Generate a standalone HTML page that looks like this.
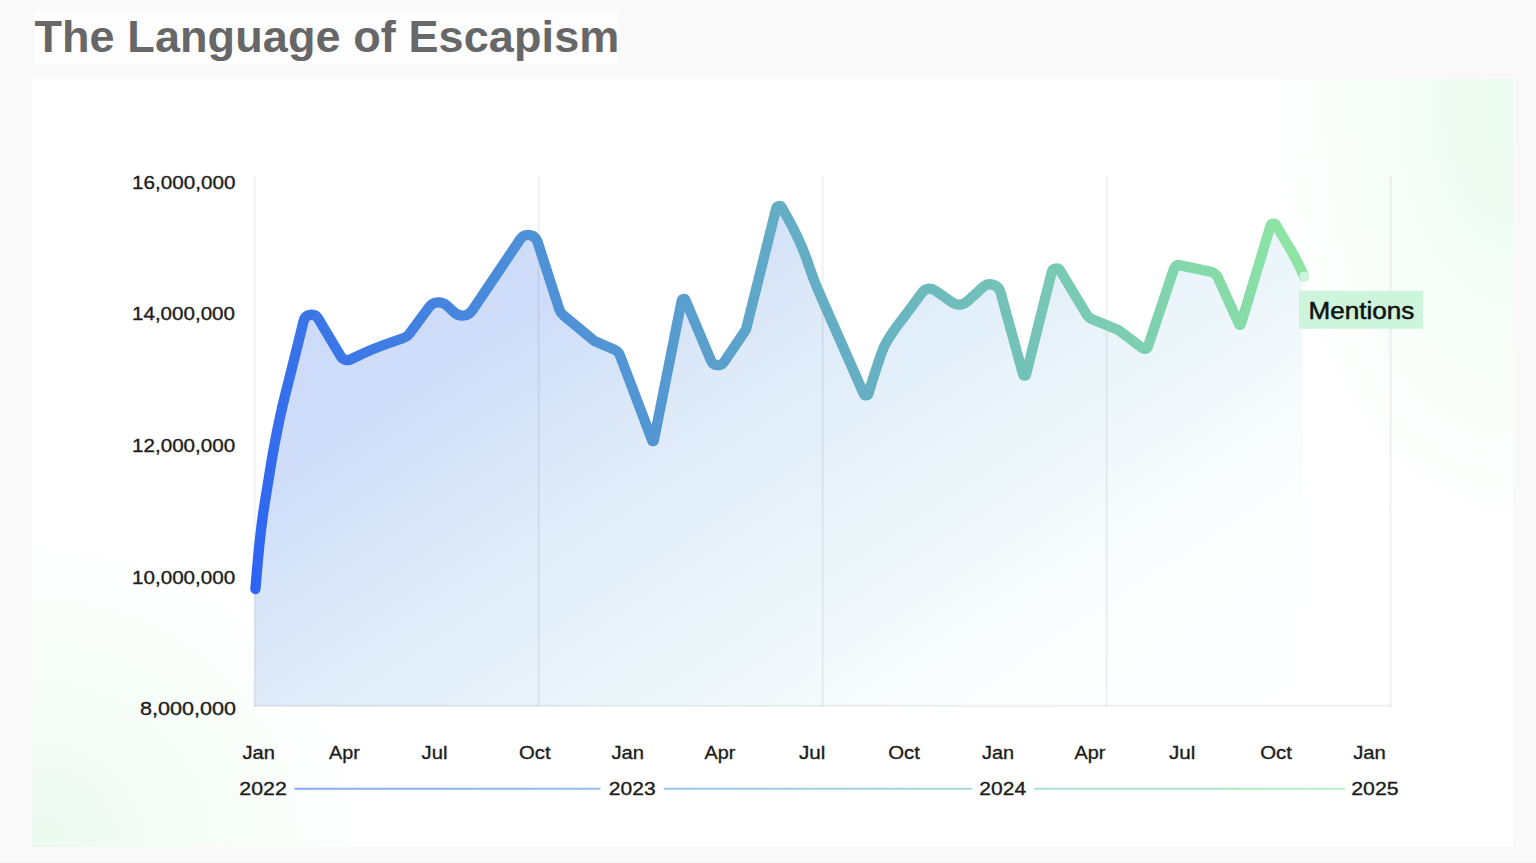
<!DOCTYPE html>
<html lang="en">
<head>
<meta charset="utf-8">
<title>The Language of Escapism</title>
<style>
  html, body { margin:0; padding:0; }
  body { width:1536px; height:863px; overflow:hidden; background:#f9f9f9; position:relative;
         font-family:"Liberation Sans", sans-serif; }
  .title-box { position:absolute; left:34px; top:9.5px; width:585px; height:54px; background:#fdfdfd; }
  .title { position:absolute; left:34.4px; top:10.1px; margin:0; font-size:45px; line-height:54px; font-weight:bold;
           color:#676767; white-space:nowrap; letter-spacing:0.1px; }
  .panel { position:absolute; left:31.6px; top:79.3px; width:1481px; height:767.5px; background:
      radial-gradient(ellipse 310px 540px at 100% 3%, rgba(236,252,240,1) 0%, rgba(238,252,242,0.9) 22%, rgba(244,253,246,0.5) 55%, rgba(251,254,252,0.18) 80%, rgba(255,255,255,0) 100%),
      radial-gradient(ellipse 440px 410px at 0% 100%, rgba(236,250,240,1) 0%, rgba(242,252,245,0.7) 40%, rgba(251,254,252,0.25) 75%, rgba(255,255,255,0) 100%),
      #ffffff; }
  svg { position:absolute; left:0; top:0; }
  svg text { font-family:"Liberation Sans", sans-serif; }
</style>
</head>
<body>
<div class="title-box"></div>
<h1 class="title">The Language of Escapism</h1>
<div class="panel"></div>
<div style="position:absolute;left:0;top:862px;width:1536px;height:1px;background:#f4f4f4"></div>
<svg width="1536" height="863" viewBox="0 0 1536 863">
<defs>
  <linearGradient id="gl" gradientUnits="userSpaceOnUse" x1="254" y1="594" x2="1304" y2="201">
    <stop offset="0" stop-color="#2d64f3"/>
    <stop offset="1" stop-color="#8fe7a1"/>
  </linearGradient>
  <linearGradient id="gy" gradientUnits="userSpaceOnUse" x1="294" y1="0" x2="1345" y2="0">
    <stop offset="0" stop-color="#88a6f6"/>
    <stop offset="0.5" stop-color="#a2cfe2"/>
    <stop offset="1" stop-color="#b6efc4"/>
  </linearGradient>
  <linearGradient id="ga" gradientUnits="userSpaceOnUse" x1="254.5" y1="206" x2="803.7" y2="1035.8">
    <stop offset="0.0" stop-color="#cddbfa"/>
    <stop offset="0.25" stop-color="#cfddf9"/>
    <stop offset="0.3" stop-color="#d4e2f9"/>
    <stop offset="0.4" stop-color="#deeaf8"/>
    <stop offset="0.5" stop-color="#e3eff9"/>
    <stop offset="0.57" stop-color="#e9f3fa"/>
    <stop offset="0.63" stop-color="#ecf6fa"/>
    <stop offset="0.67" stop-color="#f0f8fb"/>
    <stop offset="0.74" stop-color="#f6fbfc"/>
    <stop offset="0.82" stop-color="#fcfefe"/>
    <stop offset="0.89" stop-color="#feffff"/>
    <stop offset="1.0" stop-color="#ffffff"/>
  </linearGradient>
</defs>
<path d="M254.5 706.3L254.5 589L255.40 589.00L256.54 575.51Q257.60 563.00 258.80 550.50L258.80 550.50Q260.00 538.00 261.55 525.54L261.55 525.50Q263.10 513.00 265.14 500.57L265.15 500.50Q267.20 488.00 269.21 475.49L270.48 467.56Q272.50 455.00 274.88 442.50L274.88 442.50Q277.25 430.00 279.91 417.56L279.93 417.50Q282.60 405.00 285.77 392.62L285.80 392.50Q289.00 380.00 292.11 367.48L293.39 362.31Q295.80 352.60 298.19 342.89L303.62 320.90A8.00 8.00 0 0 1 318.25 318.70L340.65 356.15A8.00 8.00 0 0 0 350.96 359.26L361.67 354.16Q372.50 349.00 383.81 344.99L403.50 338.01A13.00 13.00 0 0 0 409.62 333.47L428.98 307.22A12.00 12.00 0 0 1 446.78 305.53L454.22 312.40A12.00 12.00 0 0 0 472.31 310.29L520.24 239.24A9.70 9.70 0 0 1 537.52 241.69L559.28 309.29A13.00 13.00 0 0 0 563.38 315.33L593.47 340.16A13.00 13.00 0 0 0 596.68 342.11L614.44 349.63A10.00 10.00 0 0 1 619.90 355.29L652.29 440.69A0.80 0.80 0 0 0 653.82 440.56L681.74 300.60A2.00 2.00 0 0 1 685.54 300.21L711.06 360.65A7.50 7.50 0 0 0 724.19 361.92L745.58 330.16A5.00 5.00 0 0 0 746.28 328.58L776.24 208.25A3.00 3.00 0 0 1 781.77 207.49L786.32 215.53Q793.10 227.50 798.85 240.00L799.11 240.56Q804.60 252.50 808.67 265.00L809.31 266.95Q812.75 277.50 817.12 287.70L817.12 287.70Q821.50 297.90 825.97 308.06L863.80 393.91A2.50 2.50 0 0 0 868.49 393.61L870.01 388.45Q872.50 380.00 875.30 371.65L875.33 371.58Q878.10 363.30 880.80 355.00L881.01 354.37Q883.50 346.70 887.75 339.85L887.75 339.85Q892.00 333.00 896.79 326.52L896.80 326.50Q901.60 320.00 906.52 313.59L907.35 312.50Q913.10 305.00 918.64 297.34L922.01 292.69A9.50 9.50 0 0 1 935.11 290.45L952.37 302.40A12.00 12.00 0 0 0 967.28 301.40L982.96 287.13A10.70 10.70 0 0 1 1000.48 292.20L1023.14 374.50A1.50 1.50 0 0 0 1026.04 374.47L1051.74 272.10A4.70 4.70 0 0 1 1060.32 270.82L1086.54 314.34A12.00 12.00 0 0 0 1092.25 319.24L1116.50 329.22A14.00 14.00 0 0 1 1119.59 330.98L1142.46 348.20A3.50 3.50 0 0 0 1147.88 346.52L1174.22 268.08A4.50 4.50 0 0 1 1179.42 265.11L1210.81 271.76A10.00 10.00 0 0 1 1217.84 277.42L1239.02 324.16A1.00 1.00 0 0 0 1240.89 324.04L1270.58 225.71A3.00 3.00 0 0 1 1276.04 225.06L1281.42 234.25Q1286.25 242.50 1291.17 250.70L1291.19 250.73Q1296.10 258.90 1300.05 267.57L1304.00 276.25L1302.5 276.25L1302.5 706.3Z" fill="url(#ga)"/>
<line x1="254.7" y1="176.5" x2="254.7" y2="706.8" stroke="#000" stroke-opacity="0.055" stroke-width="2.2"/>
<line x1="538.6" y1="176.5" x2="538.6" y2="706.8" stroke="#000" stroke-opacity="0.055" stroke-width="2.2"/>
<line x1="822.6" y1="176.5" x2="822.6" y2="706.8" stroke="#000" stroke-opacity="0.055" stroke-width="2.2"/>
<line x1="1106.6" y1="176.5" x2="1106.6" y2="706.8" stroke="#000" stroke-opacity="0.055" stroke-width="2.2"/>
<line x1="1390.6" y1="176.5" x2="1390.6" y2="706.8" stroke="#000" stroke-opacity="0.055" stroke-width="2.2"/>
<line x1="253.6" y1="705.8" x2="1391.7" y2="705.8" stroke="#000" stroke-opacity="0.055" stroke-width="2.2"/>
<path d="M255.40 589.00L256.54 575.51Q257.60 563.00 258.80 550.50L258.80 550.50Q260.00 538.00 261.55 525.54L261.55 525.50Q263.10 513.00 265.14 500.57L265.15 500.50Q267.20 488.00 269.21 475.49L270.48 467.56Q272.50 455.00 274.88 442.50L274.88 442.50Q277.25 430.00 279.91 417.56L279.93 417.50Q282.60 405.00 285.77 392.62L285.80 392.50Q289.00 380.00 292.11 367.48L293.39 362.31Q295.80 352.60 298.19 342.89L303.62 320.90A8.00 8.00 0 0 1 318.25 318.70L340.65 356.15A8.00 8.00 0 0 0 350.96 359.26L361.67 354.16Q372.50 349.00 383.81 344.99L403.50 338.01A13.00 13.00 0 0 0 409.62 333.47L428.98 307.22A12.00 12.00 0 0 1 446.78 305.53L454.22 312.40A12.00 12.00 0 0 0 472.31 310.29L520.24 239.24A9.70 9.70 0 0 1 537.52 241.69L559.28 309.29A13.00 13.00 0 0 0 563.38 315.33L593.47 340.16A13.00 13.00 0 0 0 596.68 342.11L614.44 349.63A10.00 10.00 0 0 1 619.90 355.29L652.29 440.69A0.80 0.80 0 0 0 653.82 440.56L681.74 300.60A2.00 2.00 0 0 1 685.54 300.21L711.06 360.65A7.50 7.50 0 0 0 724.19 361.92L745.58 330.16A5.00 5.00 0 0 0 746.28 328.58L776.24 208.25A3.00 3.00 0 0 1 781.77 207.49L786.32 215.53Q793.10 227.50 798.85 240.00L799.11 240.56Q804.60 252.50 808.67 265.00L809.31 266.95Q812.75 277.50 817.12 287.70L817.12 287.70Q821.50 297.90 825.97 308.06L863.80 393.91A2.50 2.50 0 0 0 868.49 393.61L870.01 388.45Q872.50 380.00 875.30 371.65L875.33 371.58Q878.10 363.30 880.80 355.00L881.01 354.37Q883.50 346.70 887.75 339.85L887.75 339.85Q892.00 333.00 896.79 326.52L896.80 326.50Q901.60 320.00 906.52 313.59L907.35 312.50Q913.10 305.00 918.64 297.34L922.01 292.69A9.50 9.50 0 0 1 935.11 290.45L952.37 302.40A12.00 12.00 0 0 0 967.28 301.40L982.96 287.13A10.70 10.70 0 0 1 1000.48 292.20L1023.14 374.50A1.50 1.50 0 0 0 1026.04 374.47L1051.74 272.10A4.70 4.70 0 0 1 1060.32 270.82L1086.54 314.34A12.00 12.00 0 0 0 1092.25 319.24L1116.50 329.22A14.00 14.00 0 0 1 1119.59 330.98L1142.46 348.20A3.50 3.50 0 0 0 1147.88 346.52L1174.22 268.08A4.50 4.50 0 0 1 1179.42 265.11L1210.81 271.76A10.00 10.00 0 0 1 1217.84 277.42L1239.02 324.16A1.00 1.00 0 0 0 1240.89 324.04L1270.58 225.71A3.00 3.00 0 0 1 1276.04 225.06L1281.42 234.25Q1286.25 242.50 1291.17 250.70L1291.19 250.73Q1296.10 258.90 1300.05 267.57L1304.00 276.25" fill="none" stroke="url(#gl)" stroke-width="10.3" stroke-linecap="round" stroke-linejoin="round"/>
<circle cx="1304.3" cy="276.4" r="5" fill="#cdf5dc"/>
<rect x="1299" y="290.8" width="124" height="38" fill="#cdf5dc"/>
<text x="1308.6" y="318.5" font-size="23" font-weight="normal" fill="#111" stroke="#111" stroke-width="0.5" stroke-linejoin="round" text-anchor="start" textLength="105.8" lengthAdjust="spacingAndGlyphs">Mentions</text>
<text x="132.0" y="188.6" font-size="19" font-weight="normal" fill="#1c1c1c" stroke="#1c1c1c" stroke-width="0.35" stroke-linejoin="round" text-anchor="start" textLength="103.4" lengthAdjust="spacingAndGlyphs">16,000,000</text>
<text x="132.0" y="320.4" font-size="19" font-weight="normal" fill="#1c1c1c" stroke="#1c1c1c" stroke-width="0.35" stroke-linejoin="round" text-anchor="start" textLength="103.0" lengthAdjust="spacingAndGlyphs">14,000,000</text>
<text x="132.0" y="452.1" font-size="19" font-weight="normal" fill="#1c1c1c" stroke="#1c1c1c" stroke-width="0.35" stroke-linejoin="round" text-anchor="start" textLength="103.2" lengthAdjust="spacingAndGlyphs">12,000,000</text>
<text x="132.0" y="583.8" font-size="19" font-weight="normal" fill="#1c1c1c" stroke="#1c1c1c" stroke-width="0.35" stroke-linejoin="round" text-anchor="start" textLength="103.2" lengthAdjust="spacingAndGlyphs">10,000,000</text>
<text x="140.0" y="715.4" font-size="19" font-weight="normal" fill="#1c1c1c" stroke="#1c1c1c" stroke-width="0.35" stroke-linejoin="round" text-anchor="start" textLength="96.0" lengthAdjust="spacingAndGlyphs">8,000,000</text>
<text x="242.5" y="758.6" font-size="19" font-weight="normal" fill="#1c1c1c" stroke="#1c1c1c" stroke-width="0.35" stroke-linejoin="round" text-anchor="start" textLength="32.4" lengthAdjust="spacingAndGlyphs">Jan</text>
<text x="329.0" y="758.6" font-size="19" font-weight="normal" fill="#1c1c1c" stroke="#1c1c1c" stroke-width="0.35" stroke-linejoin="round" text-anchor="start" textLength="30.8" lengthAdjust="spacingAndGlyphs">Apr</text>
<text x="421.5" y="758.6" font-size="19" font-weight="normal" fill="#1c1c1c" stroke="#1c1c1c" stroke-width="0.35" stroke-linejoin="round" text-anchor="start" textLength="25.9" lengthAdjust="spacingAndGlyphs">Jul</text>
<text x="519.0" y="758.6" font-size="19" font-weight="normal" fill="#1c1c1c" stroke="#1c1c1c" stroke-width="0.35" stroke-linejoin="round" text-anchor="start" textLength="31.6" lengthAdjust="spacingAndGlyphs">Oct</text>
<text x="611.5" y="758.6" font-size="19" font-weight="normal" fill="#1c1c1c" stroke="#1c1c1c" stroke-width="0.35" stroke-linejoin="round" text-anchor="start" textLength="32.6" lengthAdjust="spacingAndGlyphs">Jan</text>
<text x="704.5" y="758.6" font-size="19" font-weight="normal" fill="#1c1c1c" stroke="#1c1c1c" stroke-width="0.35" stroke-linejoin="round" text-anchor="start" textLength="30.8" lengthAdjust="spacingAndGlyphs">Apr</text>
<text x="799.0" y="758.6" font-size="19" font-weight="normal" fill="#1c1c1c" stroke="#1c1c1c" stroke-width="0.35" stroke-linejoin="round" text-anchor="start" textLength="26.4" lengthAdjust="spacingAndGlyphs">Jul</text>
<text x="888.2" y="758.6" font-size="19" font-weight="normal" fill="#1c1c1c" stroke="#1c1c1c" stroke-width="0.35" stroke-linejoin="round" text-anchor="start" textLength="31.7" lengthAdjust="spacingAndGlyphs">Oct</text>
<text x="982.0" y="758.6" font-size="19" font-weight="normal" fill="#1c1c1c" stroke="#1c1c1c" stroke-width="0.35" stroke-linejoin="round" text-anchor="start" textLength="32.1" lengthAdjust="spacingAndGlyphs">Jan</text>
<text x="1074.5" y="758.6" font-size="19" font-weight="normal" fill="#1c1c1c" stroke="#1c1c1c" stroke-width="0.35" stroke-linejoin="round" text-anchor="start" textLength="30.8" lengthAdjust="spacingAndGlyphs">Apr</text>
<text x="1169.0" y="758.6" font-size="19" font-weight="normal" fill="#1c1c1c" stroke="#1c1c1c" stroke-width="0.35" stroke-linejoin="round" text-anchor="start" textLength="26.4" lengthAdjust="spacingAndGlyphs">Jul</text>
<text x="1260.2" y="758.6" font-size="19" font-weight="normal" fill="#1c1c1c" stroke="#1c1c1c" stroke-width="0.35" stroke-linejoin="round" text-anchor="start" textLength="31.7" lengthAdjust="spacingAndGlyphs">Oct</text>
<text x="1353.2" y="758.6" font-size="19" font-weight="normal" fill="#1c1c1c" stroke="#1c1c1c" stroke-width="0.35" stroke-linejoin="round" text-anchor="start" textLength="32.7" lengthAdjust="spacingAndGlyphs">Jan</text>
<text x="239.3" y="794.7" font-size="19" font-weight="normal" fill="#1c1c1c" stroke="#1c1c1c" stroke-width="0.35" stroke-linejoin="round" text-anchor="start" textLength="47.5" lengthAdjust="spacingAndGlyphs">2022</text>
<text x="608.8" y="794.7" font-size="19" font-weight="normal" fill="#1c1c1c" stroke="#1c1c1c" stroke-width="0.35" stroke-linejoin="round" text-anchor="start" textLength="46.8" lengthAdjust="spacingAndGlyphs">2023</text>
<text x="979.3" y="794.7" font-size="19" font-weight="normal" fill="#1c1c1c" stroke="#1c1c1c" stroke-width="0.35" stroke-linejoin="round" text-anchor="start" textLength="46.8" lengthAdjust="spacingAndGlyphs">2024</text>
<text x="1351.3" y="794.7" font-size="19" font-weight="normal" fill="#1c1c1c" stroke="#1c1c1c" stroke-width="0.35" stroke-linejoin="round" text-anchor="start" textLength="47.3" lengthAdjust="spacingAndGlyphs">2025</text>
<line x1="294.5" y1="788.8" x2="600.5" y2="788.8" stroke="url(#gy)" stroke-width="2.1"/>
<line x1="663.7" y1="788.8" x2="972.3" y2="788.8" stroke="url(#gy)" stroke-width="2.1"/>
<line x1="1034.2" y1="788.8" x2="1345" y2="788.8" stroke="url(#gy)" stroke-width="2.1"/>
</svg>
</body>
</html>
